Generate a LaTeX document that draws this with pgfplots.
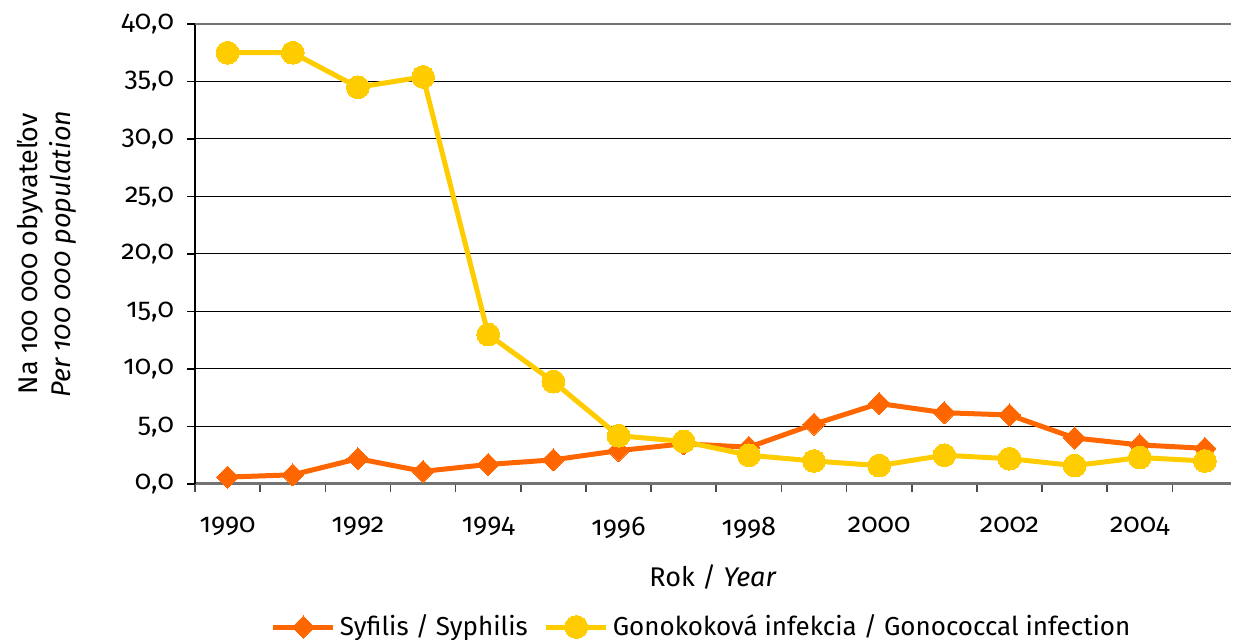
\documentclass[border=0pt]{standalone}
\usepackage{pgfplots}
\pgfplotsset{compat=1.18}
\usepackage{fontspec}
\setmainfont{Fira Sans}[Numbers=OldStyle]
\definecolor{syf}{HTML}{FF6600}
\definecolor{gon}{HTML}{FFCC00}
\begin{document}
\begin{tikzpicture}
\begin{axis}[
  scale only axis,
  width=518pt, height=230pt,
  xmin=1989.5, xmax=2005.4,
  ymin=0, ymax=40,
  axis lines=left,
  axis line style={draw=black, line width=0.8pt},
  x axis line style={-, draw=gray!90!black, line width=1.5pt},
  y axis line style={-},
  xtick={1990,1992,...,2004},
  xticklabels={1990,1992,1994,1996,1998,2000,2002,2004},
  major x tick style={draw=none},
  minor xtick={1989.5,1990.5,...,2005.5},
  minor x tick style={draw=black!70, line width=0.8pt},
  minor tick length=4pt,
  tick align=outside,
  ytick={0,5,...,40},
  major y tick style={draw=black, line width=0.6pt},
  major tick length=4pt,
  ymajorgrids,
  major grid style={draw=black, line width=0.5pt},
  yticklabel={\pgfmathprintnumber[fixed,fixed zerofill,precision=1,use comma]{\tick}},
  /pgf/number format/assume math mode=true,
  tick label style={font=\fontsize{13.5}{15}\selectfont},
  xticklabel style={yshift=-9pt},
  yticklabel style={xshift=-3pt},
  xlabel={Rok / \textit{Year}},
  xlabel style={font=\fontsize{13.5}{15}\selectfont, at={(axis description cs:0.5,0)}, anchor=center, yshift=-46.5pt},
  ylabel={\shortstack{Na 100 000 obyvateľov\\\textit{Per 100 000 population}}},
  ylabel style={font=\fontsize{13.5}{15.5}\selectfont, at={(axis description cs:0,0.5)}, anchor=center, yshift=74pt},
  legend style={at={(axis description cs:0.49,0)}, anchor=center, yshift=-71.5pt, draw=none, fill=none, legend columns=2, font=\fontsize{13}{14}\selectfont, /tikz/every even column/.append style={column sep=6pt}},
  legend cell align=left,
  legend image code/.code={\draw[mark repeat=2,mark phase=2,#1] plot coordinates {(0pt,0pt) (15pt,0pt) (30pt,0pt)};},
  clip=false,
]
\addplot[color=syf, line width=2.5pt, mark=square*, mark size=3.9pt, mark options={fill=syf, draw=syf, line width=0pt, rotate=45}] coordinates {
(1990,0.6) (1991,0.8) (1992,2.2) (1993,1.1) (1994,1.7) (1995,2.1) (1996,2.9) (1997,3.5) (1998,3.2) (1999,5.2) (2000,7.0) (2001,6.2) (2002,6.0) (2003,4.0) (2004,3.4) (2005,3.1)
};
\addlegendentry{Syfilis / Syphilis}
\addplot[color=gon, line width=2.5pt, mark=*, mark size=5.7pt, mark options={fill=gon, draw=gon, line width=0pt}] coordinates {
(1990,37.5) (1991,37.5) (1992,34.5) (1993,35.4) (1994,13.0) (1995,8.9) (1996,4.2) (1997,3.7) (1998,2.5) (1999,2.0) (2000,1.6) (2001,2.5) (2002,2.2) (2003,1.6) (2004,2.3) (2005,2.0)
};
\addlegendentry{Gonokoková infekcia / Gonococcal infection}
\draw[gray!90!black, line width=1.2pt] (axis cs:1989.5,40) -- (axis cs:2005.4,40);
\end{axis}
\pgfresetboundingbox
\path[use as bounding box] (-97.5pt,-78pt) rectangle (519.5pt,242pt);
\end{tikzpicture}
\end{document}
